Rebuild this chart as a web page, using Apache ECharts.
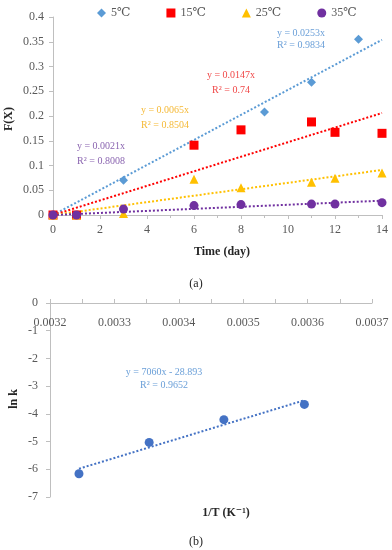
<!DOCTYPE html>
<html>
<head>
<meta charset="utf-8">
<script src="https://cdn.jsdelivr.net/npm/echarts@6/dist/echarts.min.js"></script>
<style>html,body{margin:0;padding:0;background:#fff}#c{width:392px;height:550px}</style>
</head>
<body>
<div id="c"></div>
<script>
// ---- Chart (a): F(X) vs time ----
var names = ['5℃', '15℃', '25℃', '35℃'];
var pts5 = [[0, 0], [3, 0.07], [9, 0.208], [11, 0.268], [13, 0.355]];
var pts15 = [[0, 0], [1, 0], [6, 0.141], [8, 0.172], [11, 0.188], [12, 0.167], [14, 0.165]];
var pts25 = [[0, 0], [1, 0], [3, 0.003], [6, 0.072], [8, 0.055], [11, 0.066], [12, 0.074], [14, 0.085]];
var pts35 = [[0, 0], [1, 0], [3, 0.012], [6, 0.019], [8, 0.021], [11, 0.022], [12, 0.022], [14, 0.025]];
// trend line endpoints
var trend5 = [[0, 0], [14, 0.354]];
var trend15 = [[0, 0], [14, 0.206]];
var trend25 = [[0, 0], [14, 0.091]];
var trend35 = [[0, 0], [14, 0.029]];
var eqA = [['y = 0.0253x', 'R² = 0.9834'], ['y = 0.0147x', 'R² = 0.74'], ['y = 0.0065x', 'R² = 0.8504'], ['y = 0.0021x', 'R² = 0.8008']];

// ---- Chart (b): ln k vs 1/T ----
var invT = [0.003245, 0.003354, 0.003470, 0.003595];
var lnk = [-6.16, -5.03, -4.21, -3.66];
var trendB = [[0.003245, -5.98], [0.003595, -3.51]];
var eqB = ['y = 7060x - 28.893', 'R² = 0.9652'];

var colors = ['#5b9bd5', '#ff0000', '#ffc000', '#7030a0'];
var textColors = ['#6a9fd8', '#f04848', '#f5b936', '#8a64b0'];
var serif = '"Liberation Serif", "DejaVu Serif", serif';
var axisGray = '#bfbfbf';
var labelGray = '#595959';

function trendSeries(data, color, xi, yi) {
  return {
    type: 'line', data: data, xAxisIndex: xi, yAxisIndex: yi,
    showSymbol: false, symbol: 'none', silent: true,
    lineStyle: { color: color, width: 2, type: [2, 2] }, z: 2
  };
}
function scatterSeries(name, data, symbol, size, color) {
  return {
    type: 'scatter', name: name, data: data, xAxisIndex: 0, yAxisIndex: 0,
    symbol: symbol, symbolSize: size, itemStyle: { color: color, opacity: 1 }, z: 3
  };
}

var chart = echarts.init(document.getElementById('c'), null, { renderer: 'canvas' });
var txt = function (x, y, s, color, size, weight, rot) {
  return {
    type: 'text', left: undefined, x: x, y: y, rotation: rot || 0,
    style: { text: s, fill: color, font: (weight || 'normal') + ' ' + size + 'px ' + serif, textAlign: 'center', textVerticalAlign: 'middle' },
    z: 10
  };
};
var eqPos = [[301, 33, 45], [231, 75, 90], [165, 110, 125], [101, 146, 161]];
var graphics = [];
eqA.forEach(function (e, i) {
  graphics.push(txt(eqPos[i][0], eqPos[i][1], e[0], textColors[i], 10));
  graphics.push(txt(eqPos[i][0], eqPos[i][2], e[1], textColors[i], 10));
});
graphics.push(txt(164, 372, eqB[0], '#6a9fd8', 10));
graphics.push(txt(164, 385, eqB[1], '#6a9fd8', 10));
graphics.push(txt(9, 119, 'F(X)', '#262626', 12, 'bold', Math.PI / 2));
graphics.push(txt(222, 252, 'Time (day)', '#262626', 12, 'bold'));
graphics.push(txt(196, 284, '(a)', '#262626', 12, 'normal'));
graphics.push(txt(14, 399, 'ln k', '#262626', 12, 'bold', Math.PI / 2));
graphics.push(txt(226, 513, '1/T (K⁻¹)', '#262626', 12, 'bold'));
graphics.push(txt(196, 542, '(b)', '#262626', 12, 'normal'));

chart.setOption({
  animation: false,
  backgroundColor: '#fff',
  textStyle: { fontFamily: serif },
  legend: {
    data: names, left: 92, top: 2, itemWidth: 9, itemHeight: 9, itemGap: 36,
    textStyle: { fontFamily: serif, fontSize: 12, color: labelGray }
  },
  graphic: graphics,
  grid: [
    { left: 53, top: 17, width: 329, height: 198, containLabel: false },
    { left: 50, top: 303, width: 322, height: 194, containLabel: false }
  ],
  xAxis: [
    {
      gridIndex: 0, type: 'value', min: 0, max: 14, interval: 2,
      axisLine: { show: true, onZero: false, lineStyle: { color: axisGray } },
      axisTick: { show: true, length: 4, lineStyle: { color: axisGray } },
      minorTick: { show: true, splitNumber: 2, length: 3, lineStyle: { color: axisGray } },
      splitLine: { show: false },
      axisLabel: { color: labelGray, fontFamily: serif, fontSize: 12, margin: 9 }
    },
    {
      gridIndex: 1, type: 'value', min: 0.0032, max: 0.0037, interval: 0.0001, position: 'top',
      axisLine: { show: true, onZero: false, lineStyle: { color: axisGray } },
      axisTick: { show: true, length: 4, lineStyle: { color: axisGray } },
      minorTick: { show: true, splitNumber: 2, length: 4, lineStyle: { color: axisGray } },
      splitLine: { show: false },
      axisLabel: { inside: true, margin: 14, color: labelGray, fontFamily: serif, fontSize: 12,
        formatter: function (v) { return v.toFixed(4); } }
    }
  ],
  yAxis: [
    {
      gridIndex: 0, type: 'value', min: 0, max: 0.4, interval: 0.05,
      axisLine: { show: true, lineStyle: { color: axisGray } },
      axisTick: { show: true, length: 4, lineStyle: { color: axisGray } },
      splitLine: { show: false },
      axisLabel: { color: labelGray, fontFamily: serif, fontSize: 12, margin: 9 }
    },
    {
      gridIndex: 1, type: 'value', min: -7, max: 0, interval: 1,
      axisLine: { show: true, lineStyle: { color: axisGray } },
      axisTick: { show: true, length: 4, lineStyle: { color: axisGray } },
      splitLine: { show: false },
      axisLabel: { color: labelGray, fontFamily: serif, fontSize: 12, margin: 12 }
    }
  ],
  series: [
    trendSeries(trend5, colors[0], 0, 0),
    trendSeries(trend15, colors[1], 0, 0),
    trendSeries(trend25, colors[2], 0, 0),
    trendSeries(trend35, colors[3], 0, 0),
    scatterSeries(names[0], pts5, 'diamond', 9, colors[0]),
    scatterSeries(names[1], pts15, 'rect', 9, colors[1]),
    scatterSeries(names[2], pts25, 'triangle', 9, colors[2]),
    scatterSeries(names[3], pts35, 'circle', 9, colors[3]),
    trendSeries(trendB, '#4472c4', 1, 1),
    {
      type: 'scatter', name: 'lnk', xAxisIndex: 1, yAxisIndex: 1,
      data: invT.map(function (x, i) { return [x, lnk[i]]; }),
      symbol: 'circle', symbolSize: 9, itemStyle: { color: '#4472c4', opacity: 1 }, z: 3
    }
  ]
});
</script>
</body>
</html>
